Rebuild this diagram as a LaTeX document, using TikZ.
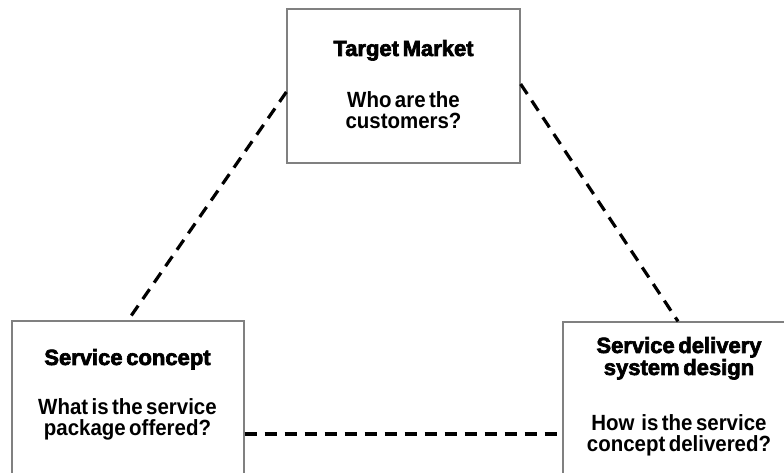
\documentclass[tikz,border=0pt]{standalone}
\usepackage{fontspec}
\setmainfont{Liberation Sans}[WordSpace=0.6]
\newfontface\bodyface{Liberation Sans Bold}[WordSpace=0.6,FakeStretch=0.93]
\newfontface\titleface{Liberation Sans Bold}[WordSpace=0.6,FakeBold=3]
\usetikzlibrary{calc}
\definecolor{boxgray}{HTML}{808080}
\begin{document}
\begin{tikzpicture}[x=1pt,y=1pt,
  box/.style={draw=boxgray, line width=1.3pt, fill=white, inner sep=0pt},
  conn/.style={draw=black, line width=3.2pt, dash pattern=on 12pt off 8pt},
  titletext/.style={anchor=base, inner sep=0pt, font=\fontsize{22}{22}\titleface},
  bodytext/.style={anchor=base, inner sep=0pt, font=\fontsize{22}{21}\bodyface}]
\useasboundingbox (0,0) rectangle (784,473);
\fill[white] (0,0) rectangle (784,473);
\clip (0,0) rectangle (784,473);
% boxes
\node[box, minimum width=233pt, minimum height=154pt] (tm) at (403.5,387) {};
\node[box, minimum width=232pt, minimum height=159pt] (sc) at (128,72.5) {};
\node[box, minimum width=237pt, minimum height=158pt] (sd) at (681.5,72) {};
% connectors
\coordinate (tmL) at ([yshift=-6pt]tm.west);
\coordinate (tmR) at ([yshift=2pt]tm.east);
\coordinate (scR) at ([yshift=-33.5pt]sc.east);
\coordinate (sdT) at ([xshift=-3.5pt]sd.north);
\draw[conn] (tmL) -- (sc.north);
\draw[conn] (tmR) -- (sdT);
\draw[conn] (scR) -- (scR -| sd.west);
% texts
\node[titletext] (tm1) at (403.5,417) {Target Market};
\node[bodytext]  (tm2) at (403.5,365) {Who are the};
\node[bodytext]  (tm3) at (403.5,344) {customers?};
\node[titletext] (sc1) at (127.5,108) {Service concept};
\node[bodytext]  (sc2) at (127.5,58.5) {What is the service};
\node[bodytext]  (sc3) at (127.5,37.5) {package offered?};
\node[titletext] (sd1) at (679,120) {Service delivery};
\node[titletext] (sd2) at (679,98) {system design};
\node[bodytext]  (sd3) at (679,42) {How\ \ is the service};
\node[bodytext]  (sd4) at (679,21) {concept delivered?};
\end{tikzpicture}
\end{document}
